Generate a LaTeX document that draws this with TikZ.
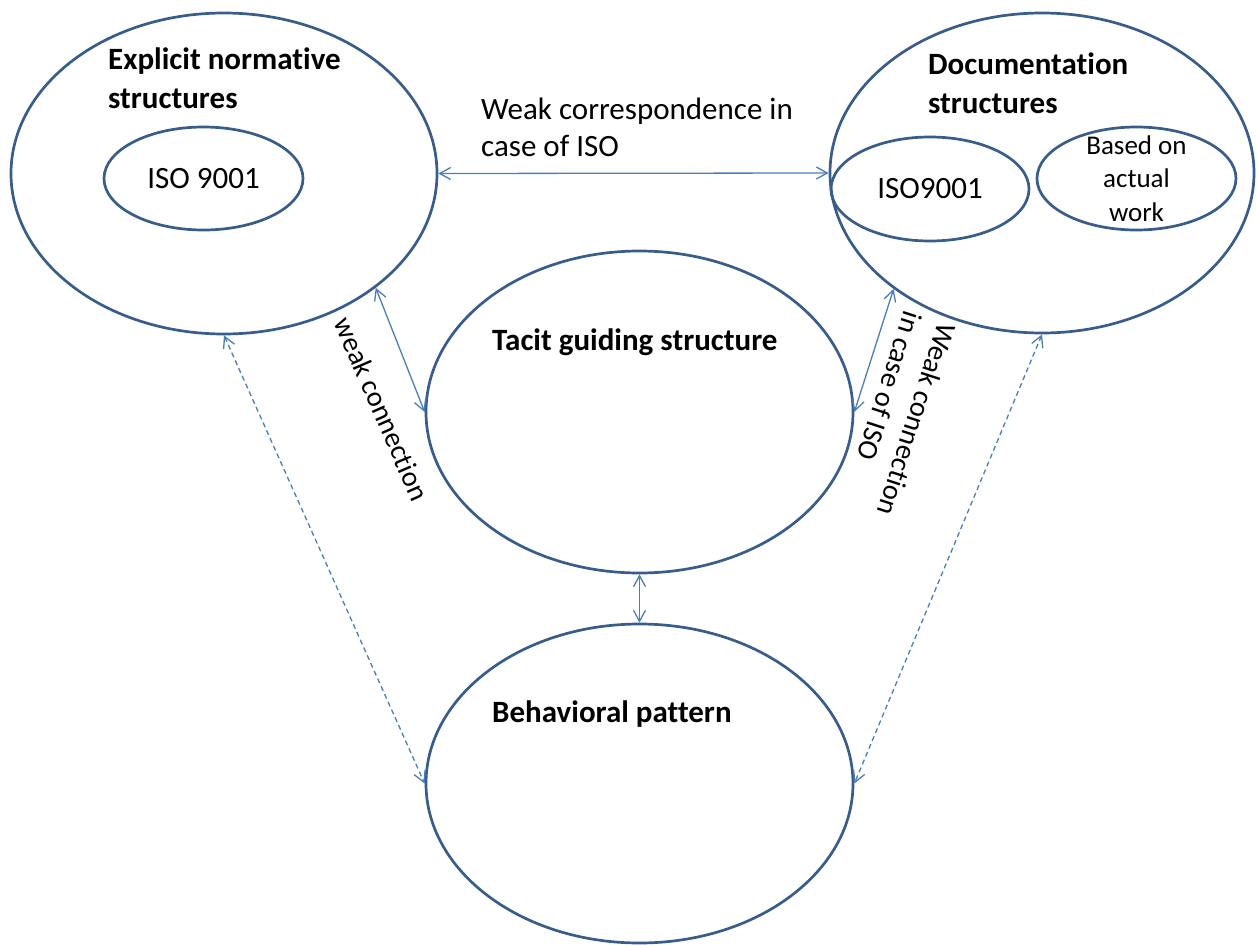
\documentclass[tikz,border=0pt]{standalone}
\usepackage{fontspec}
\setmainfont{Carlito}[Ligatures=NoCommon]
\usetikzlibrary{shapes.geometric,arrows.meta}
\definecolor{ellcol}{HTML}{385D8A}
\definecolor{concol}{HTML}{4A7EBB}
\begin{document}
\begin{tikzpicture}[x=1bp,y=-1bp,
  bigell/.style={ellipse,draw=ellcol,line width=2.7bp,inner sep=0pt},
  title/.style={font=\fontsize{31bp}{39bp}\selectfont\bfseries,inner sep=0pt,align=left},
  txt/.style={font=\fontsize{31bp}{37bp}\selectfont,inner sep=0pt,align=left},
  rottxt/.style={font=\fontsize{28.5bp}{36bp}\selectfont,inner sep=0pt,align=left},
  smalltxt/.style={font=\fontsize{27bp}{33.5bp}\selectfont,inner sep=0pt,align=center},
  conn/.style={draw=concol,line width=1.3bp,{Straight Barb[length=11bp,width=12bp]}-{Straight Barb[length=11bp,width=12bp]}},
  dconn/.style={conn,dash pattern=on 5bp off 3.5bp}]
\useasboundingbox (0,0) rectangle (1257,945);
% ellipses
\node[bigell,minimum width=426bp,minimum height=321bp] (E) at (224,173.5) {};
\node[bigell,minimum width=199bp,minimum height=103bp] (Ei) at (203.5,178.5) {};
\node[bigell,minimum width=424bp,minimum height=320bp] (D) at (1042,173) {};
\node[bigell,minimum width=198bp,minimum height=104bp] (Di) at (930,189) {};
\node[bigell,minimum width=199bp,minimum height=103bp] (Da) at (1136.5,178.5) {};
\node[bigell,minimum width=427bp,minimum height=322bp] (T) at (639.5,412) {};
\node[bigell,minimum width=427bp,minimum height=319bp] (B) at (639.5,783.5) {};
% texts
\node[title,anchor=north west] (Et) at (108,48) {Explicit normative\\structures};
\node[txt] (Eit) at (Ei.center) {ISO 9001};
\node[title,anchor=north west] (Dt) at (928,53) {Documentation\\structures};
\node[txt] (Dit) at (Di.center) {ISO9001};
\node[smalltxt] (Dat) at (Da.center) {Based on\\actual\\work};
\node[title,anchor=base west] (Tt) at (492,350) {Tacit guiding structure};
\node[title,anchor=base west] (Bt) at (492,722) {Behavioral pattern};
\node[txt,anchor=north west] (Wc) at (481,98) {Weak correspondence in\\case of ISO};
\node[rottxt,rotate=-66.5] (Lw) at (382,409) {weak connection};
\node[rottxt,rotate=-108] (Rw) at (900,414) {Weak connection\\in case of ISO};
% connectors
\draw[conn] (E.east) -- (D.west);
\draw[conn] (E.-37.4) -- (T.west);
\draw[conn] (D.218) -- (T.east);
\draw[conn] (T.south) -- (B.north);
\draw[dconn] (E.south) -- (B.west);
\draw[dconn] (D.south) -- (B.east);
\end{tikzpicture}
\end{document}
